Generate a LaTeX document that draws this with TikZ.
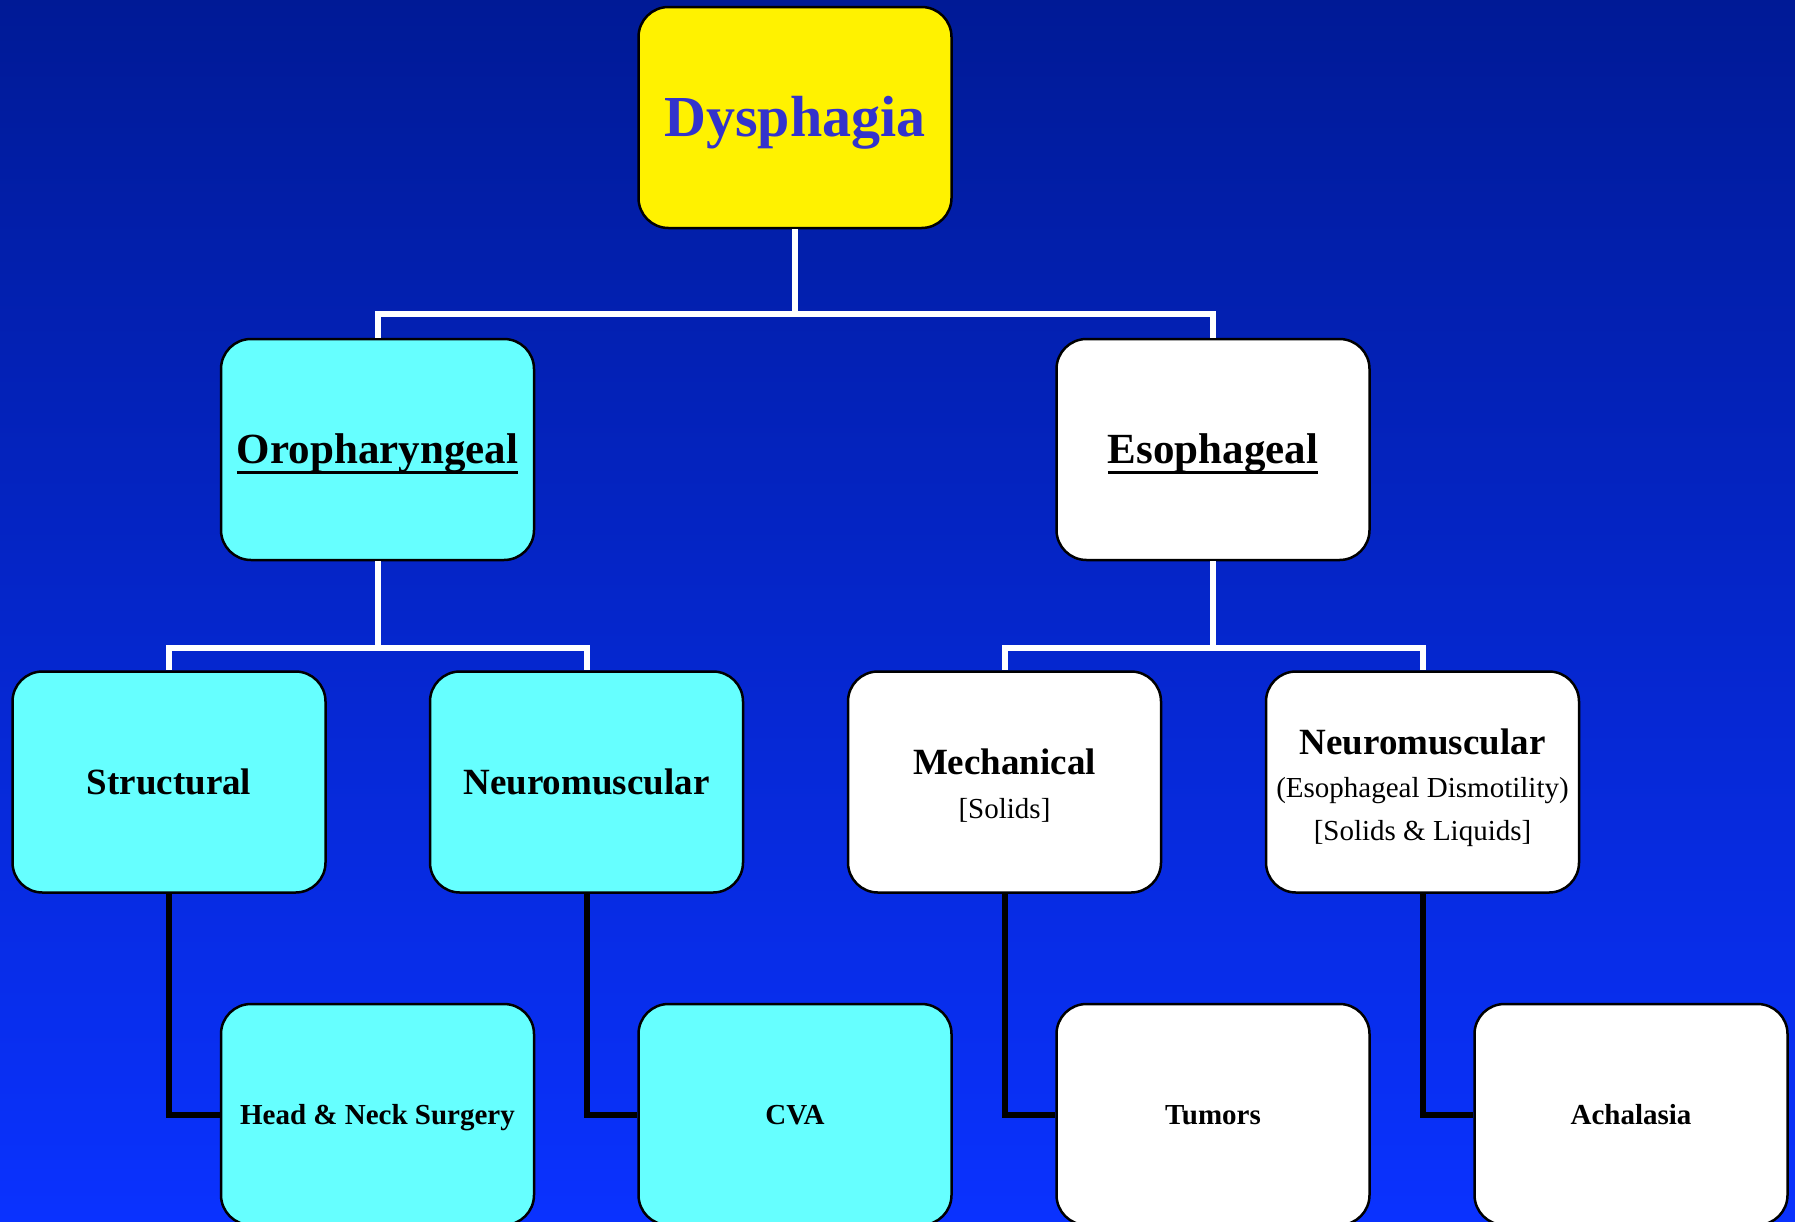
\documentclass[tikz,border=0pt]{standalone}
\usepackage{fontspec}
\setmainfont{Liberation Serif}
\usetikzlibrary{positioning}

\definecolor{bgtop}{RGB}{0,26,150}
\definecolor{bgbot}{RGB}{10,50,255}
\definecolor{aqua}{RGB}{102,255,255}
\definecolor{inkblue}{RGB}{51,51,204}

% underlined heading
\newcommand\ulbox[1]{\vtop{\hbox{#1}\kern-2pt\hrule height 2.5pt}}

\begin{document}
\begin{tikzpicture}[x=1pt,y=-1pt,
    box/.style={draw=black,line width=2.5pt,rounded corners=30pt,minimum width=313pt,minimum height=221pt,inner sep=0pt,align=center},
    oneline/.style={text height=#1,text depth=0pt},
    cyanbox/.style={box,fill=aqua},
    whitebox/.style={box,fill=white},
    bus/.style={draw=white,line width=6pt},
    leg/.style={draw=black,line width=6pt}
    ]

    \useasboundingbox (0,0) rectangle (1795,1221);
    \clip (0,0) rectangle (1795,1221);
    \shade[top color=bgtop,bottom color=bgbot] (0,0) rectangle (1795,1221);

    % top level
    \node(root) [box,oneline=38.4pt,fill=yellow,text=inkblue,font=\bfseries\fontsize{58}{70}\selectfont] at (795,117.5) {Dysphagia};

    % first level
    \node(oro) [cyanbox,oneline=28.5pt,font=\bfseries\fontsize{43}{52}\selectfont] at (377.5,449.5) {\ulbox{Oropharyngeal}};
    \node(eso) [whitebox,oneline=28.5pt,font=\bfseries\fontsize{43}{52}\selectfont] at (1213,449.5) {\ulbox{Esophageal}};

    % second level
    \node(struct) [cyanbox,oneline=24.5pt,font=\bfseries\fontsize{37}{44}\selectfont] at (169,782) {Structural};
    \node(oneuro) [cyanbox,oneline=24.5pt,font=\bfseries\fontsize{37}{44}\selectfont] at (586.5,782) {Neuromuscular};
    \node(mech) [whitebox,font=\fontsize{29}{44}\selectfont] at (1004.5,782)
      {\rule{0pt}{33pt}{\bfseries\fontsize{37}{44}\selectfont Mechanical}\\{[}Solids{]}};
    \node(eneuro) [whitebox,font=\fontsize{29}{43}\selectfont] at (1422.5,782)
      {\rule{0pt}{38pt}{\bfseries\fontsize{37}{44}\selectfont Neuromuscular}\\(Esophageal Dismotility)\\{[}Solids \& Liquids{]}};

    % third level
    \node(hns) [cyanbox,oneline=19.2pt,font=\bfseries\fontsize{29}{35}\selectfont] at (377.5,1114.5) {Head \& Neck Surgery};
    \node(cva) [cyanbox,oneline=19.2pt,font=\bfseries\fontsize{29}{35}\selectfont] at (795,1114.5) {CVA};
    \node(tum) [whitebox,oneline=19.2pt,font=\bfseries\fontsize{29}{35}\selectfont] at (1213,1114.5) {Tumors};
    \node(ach) [whitebox,oneline=19.2pt,font=\bfseries\fontsize{29}{35}\selectfont] at (1631,1114.5) {Achalasia};

    % white buses
    \draw[bus] (root.south) -- ++(0,85) -| (oro.north);
    \draw[bus] (root.south) -- ++(0,85) -| (eso.north);
    \draw[bus] (oro.south) -- ++(0,87) -| (struct.north);
    \draw[bus] (oro.south) -- ++(0,87) -| (oneuro.north);
    \draw[bus] (eso.south) -- ++(0,87) -| (mech.north);
    \draw[bus] (eso.south) -- ++(0,87) -| (eneuro.north);

    % black legs
    \draw[leg] (struct.south) |- (hns.west);
    \draw[leg] (oneuro.south) |- (cva.west);
    \draw[leg] (mech.south) |- (tum.west);
    \draw[leg] (eneuro.south) |- (ach.west);

\end{tikzpicture}
\end{document}
